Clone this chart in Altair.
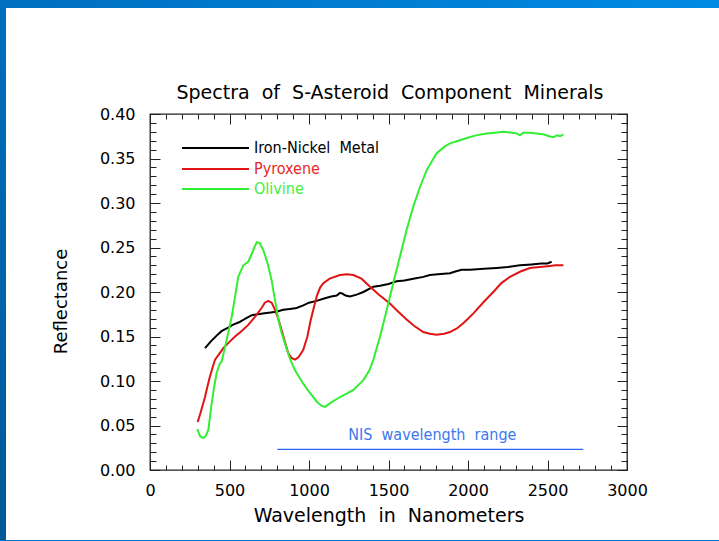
import altair as alt
import pandas as pd

# ---------------- data ----------------
iron_x = [346, 380, 419, 450, 482, 520, 560, 600, 640, 680, 720, 760, 800, 838, 880, 922, 964, 1000,
          1048, 1100, 1140, 1174, 1195, 1212, 1230, 1258, 1300, 1342, 1405, 1447, 1500, 1551, 1600,
          1656, 1719, 1760, 1810, 1887, 1920, 1960, 2013, 2100, 2180, 2250, 2327, 2400, 2460, 2500, 2526]
iron_y = [0.137, 0.144, 0.151, 0.156, 0.159, 0.163, 0.166, 0.170, 0.174, 0.175, 0.176, 0.177, 0.178,
          0.180, 0.181, 0.182, 0.185, 0.188, 0.190, 0.193, 0.195, 0.196, 0.199, 0.198, 0.196, 0.195,
          0.197, 0.200, 0.206, 0.207, 0.209, 0.212, 0.213, 0.215, 0.217, 0.219, 0.220, 0.221, 0.223,
          0.225, 0.225, 0.226, 0.227, 0.228, 0.230, 0.231, 0.232, 0.232, 0.234]

pyro_x = [300, 314, 330, 346, 360, 377, 395, 409, 430, 461, 500, 535, 575, 618, 660, 702, 722, 744,
          765, 786, 807, 828, 850, 870, 890, 912, 935, 964, 990, 1010, 1027, 1050, 1070,
          1090, 1130, 1195, 1237, 1279, 1330, 1384, 1440, 1509, 1560, 1614, 1660, 1719, 1760, 1803,
          1850, 1887, 1930, 1970, 2000, 2034, 2100, 2159, 2210, 2264, 2330, 2390, 2450, 2500, 2550, 2600]
pyro_y = [0.054, 0.062, 0.072, 0.082, 0.093, 0.105, 0.116, 0.124, 0.129, 0.137, 0.144, 0.150, 0.156,
          0.163, 0.172, 0.182, 0.188, 0.190, 0.188, 0.180, 0.170, 0.157, 0.143, 0.131, 0.126, 0.124,
          0.127, 0.135, 0.150, 0.168, 0.180, 0.196, 0.205, 0.210, 0.215, 0.219, 0.220, 0.219, 0.215,
          0.206, 0.197, 0.187, 0.178, 0.169, 0.162, 0.155, 0.153, 0.152, 0.153, 0.155, 0.159, 0.165,
          0.170, 0.176, 0.189, 0.200, 0.210, 0.217, 0.223, 0.227, 0.228, 0.229, 0.230, 0.230]

oliv_x = [294, 300, 315, 335, 350, 367, 388, 405, 419, 440, 451, 482, 514, 535, 555, 587, 618, 640,
          671, 690, 713, 740, 765, 787, 807, 828, 849, 880, 912, 964, 1000, 1048, 1080, 1101, 1140,
          1195, 1240, 1279, 1342, 1380, 1405, 1447, 1489, 1530, 1572, 1614, 1656, 1698, 1740, 1803,
          1850, 1887, 1940, 1992, 2050, 2117, 2170, 2222, 2280, 2310, 2327, 2348, 2390, 2432, 2480,
          2510, 2537, 2560, 2580, 2600]
oliv_y = [0.045, 0.045, 0.038, 0.036, 0.038, 0.045, 0.075, 0.095, 0.109, 0.120, 0.122, 0.146, 0.172,
          0.195, 0.217, 0.230, 0.234, 0.243, 0.256, 0.255, 0.247, 0.232, 0.213, 0.190, 0.169, 0.154,
          0.142, 0.125, 0.112, 0.097, 0.088, 0.077, 0.072, 0.071, 0.076, 0.082, 0.086, 0.090, 0.101,
          0.112, 0.124, 0.150, 0.180, 0.210, 0.240, 0.270, 0.296, 0.318, 0.337, 0.356, 0.363, 0.367,
          0.370, 0.373, 0.376, 0.378, 0.379, 0.380, 0.379, 0.378, 0.376, 0.379, 0.379, 0.378, 0.377,
          0.375, 0.374, 0.376, 0.375, 0.377]

SP = " \u00a0"  # wide word gap as in the original
series_names = ["Iron-Nickel" + SP + "Metal", "Pyroxene", "Olivine"]
series_colors = ["#000000", "#e01414", "#33ee33"]
label_colors = ["#000000", "#e82828", "#44ee44"]

chart_title = SP.join(["Spectra", "of", "S-Asteroid", "Component", "Minerals"])
x_title = SP.join(["Wavelength", "in", "Nanometers"])
y_title = "Reflectance"

nis_start = [801]
nis_end = [2725]
nis_level = [0.0232]
nis_label = [SP.join(["NIS", "wavelength", "range"])]
nis_label_x = [1776]
nis_label_y = [0.039]

x_major = [0, 500, 1000, 1500, 2000, 2500, 3000]
x_minor = list(range(0, 3001, 100))
y_major = [round(i * 0.05, 2) for i in range(9)]
y_minor = [round(i * 0.01, 2) for i in range(41)]

# ---------------- tables ----------------
rows = []
for name, xs, ys in zip(series_names, [iron_x, pyro_x, oliv_x], [iron_y, pyro_y, oliv_y]):
    for i, (xv, yv) in enumerate(zip(xs, ys)):
        rows.append({"series": name, "wavelength": xv, "reflectance": yv, "order": i})
df = pd.DataFrame(rows)

nis_df = pd.DataFrame({"start": nis_start, "end": nis_end, "level": nis_level,
                       "label": nis_label, "lx": nis_label_x, "ly": nis_label_y})

W, H = 477, 356
FONT = "DejaVu Sans"
NARROW = "Liberation Sans Narrow, DejaVu Sans Condensed, Liberation Sans, sans-serif"

xs_ = alt.Scale(domain=[0, 3000], nice=False, zero=False)
ys_ = alt.Scale(domain=[0, 0.4], nice=False, zero=False)


def xaxis(orient, values, size, labels=False, title=None):
    kw = dict(orient=orient, values=values, tickSize={"expr": str(-size)}, tickColor="#222222",
              tickWidth=1, domain=False, grid=False, labels=labels, title=title)
    if labels:
        kw.update(labelFont=FONT, labelFontSize=16, labelColor="black", labelPadding=22,
                  labelFlush=False, format="d")
    if title:
        kw.update(titleFont=FONT, titleFontSize=19, titleFontWeight="normal", titleColor="black",
                  titlePadding=8)
    return alt.Axis(**kw)


def yaxis(orient, values, size, labels=False, title=None):
    kw = dict(orient=orient, values=values, tickSize={"expr": str(-size)}, tickColor="#222222",
              tickWidth=1, domain=False, grid=False, labels=labels, title=title)
    if labels:
        kw.update(labelFont=FONT, labelFontSize=16, labelColor="black", labelPadding=25,
                  labelFlush=False, format=".2f")
    if title:
        kw.update(titleFont=FONT, titleFontSize=18, titleFontWeight="normal", titleColor="black",
                  titlePadding=29, titleY=187)
    return alt.Axis(**kw)


lines = alt.Chart(df).mark_line(strokeWidth=2).encode(
    x=alt.X("wavelength:Q", scale=xs_,
            axis=xaxis("bottom", x_major, 10, labels=True, title=x_title)),
    y=alt.Y("reflectance:Q", scale=ys_,
            axis=yaxis("left", y_major, 10, labels=True, title=y_title)),
    color=alt.Color("series:N", scale=alt.Scale(domain=series_names, range=series_colors), legend=None),
    order=alt.Order("order:Q"),
)


def carrier(xax, yax):
    return alt.Chart(nis_df).mark_point(opacity=0, size=1).encode(
        x=alt.X("start:Q", scale=xs_, axis=xax),
        y=alt.Y("level:Q", scale=ys_, axis=yax),
    )


ax2 = carrier(xaxis("top", x_major, 10), yaxis("right", y_major, 10))
ax3 = carrier(xaxis("bottom", x_minor, 5), yaxis("left", y_minor, 6))
ax4 = carrier(xaxis("top", x_minor, 5), yaxis("right", y_minor, 6))

nis_rule = alt.Chart(nis_df).mark_rule(color="#2a66ee", strokeWidth=1.3).encode(
    x=alt.X("start:Q", scale=xs_, axis=None), x2="end:Q",
    y=alt.Y("level:Q", scale=ys_, axis=None))
nis_text = alt.Chart(nis_df).mark_text(color="#3c78f0", font=NARROW, fontSize=16,
                                       align="center", baseline="middle").encode(
    x=alt.X("lx:Q", scale=xs_, axis=None), y=alt.Y("ly:Q", scale=ys_, axis=None), text="label:N")

# chart title as a text mark centred over the plot
title_mark = alt.Chart(nis_df).mark_text(font=FONT, fontSize=19, color="black", align="center",
                                         baseline="alphabetic").encode(
    x=alt.value(W / 2 + 1.5), y=alt.value(-15), text=alt.value(chart_title))

# legend (drawn inside the plot, top-left)
legend_layers = []
leg_y = [34, 55, 75]
for name, col, lcol, yy in zip(series_names, series_colors, label_colors, leg_y):
    legend_layers.append(alt.Chart(nis_df).mark_rule(color=col, strokeWidth=2).encode(
        x=alt.value(32), x2=alt.value(99), y=alt.value(yy)))
    legend_layers.append(alt.Chart(nis_df).mark_text(color=lcol, font=NARROW, fontSize=16,
                                                     align="left", baseline="middle").encode(
        x=alt.value(104), y=alt.value(yy), text=alt.value(name)))

# slide frame decoration (blue border of the original slide)
grad_h = alt.LinearGradient(gradient="linear", x1=0, x2=1, y1=0, y2=0,
                            stops=[alt.GradientStop(color="#006fbf", offset=0),
                                   alt.GradientStop(color="#008ae4", offset=1)])
grad_v = alt.LinearGradient(gradient="linear", x1=0, x2=0, y1=0, y2=1,
                            stops=[alt.GradientStop(color="#006fbf", offset=0),
                                   alt.GradientStop(color="#005896", offset=1)])
top_band = alt.Chart(nis_df).mark_rect(fill=grad_h).encode(
    x=alt.value(-150), x2=alt.value(569), y=alt.value(-114), y2=alt.value(-106))
left_band = alt.Chart(nis_df).mark_rect(fill=grad_v).encode(
    x=alt.value(-150), x2=alt.value(-144), y=alt.value(-114), y2=alt.value(427))
bottom_line = alt.Chart(nis_df).mark_rect(fill="#0072c6").encode(
    x=alt.value(-150), x2=alt.value(569), y=alt.value(426), y2=alt.value(427))

chart = alt.layer(
    ax2, ax3, ax4, nis_rule, nis_text, lines, title_mark, *legend_layers,
    top_band, left_band, bottom_line
).resolve_axis(x="independent", y="independent").properties(
    width=W, height=H,
    autosize=alt.AutoSizeParams(type="none"),
    padding={"left": 150, "top": 114, "right": 92, "bottom": 71},
    background="white",
).configure_view(stroke="#222222", strokeWidth=1.3)

chart.save("out.html", embed_options={"renderer": "svg", "actions": False})
